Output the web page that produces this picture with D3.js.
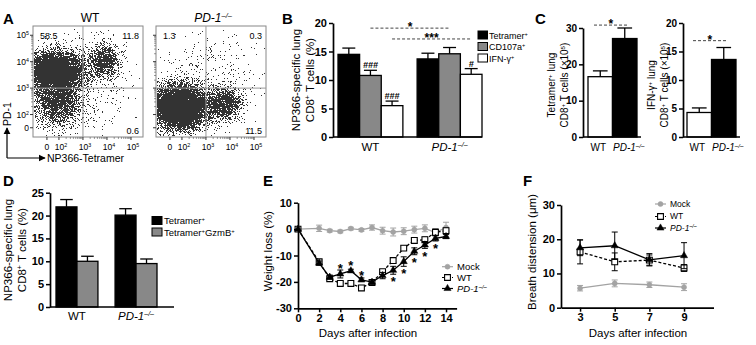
<!DOCTYPE html>
<html>
<head>
<meta charset="utf-8">
<script src="https://cdn.jsdelivr.net/npm/d3@7"></script>
<style>
  body { margin: 0; background: #fff; }
</style>
</head>
<body>
<svg id="fig" width="756" height="345"></svg>
<script>
const FONT = '"Liberation Sans", Arial, Helvetica, sans-serif'

// ---- A: flow plots, clusters
// [centre x (log10), centre y (log10), sd x, sd y, dot count]
const flowWT = [[1.85, 3.65, 0.55, 0.36, 7000], [1.95, 2.5, 0.5, 0.45, 2200], [3.85, 4.05, 0.33, 0.32, 1100], [3.0, 3.3, 1.1, 1.1, 500]]
const flowKO = [[1.9, 2.3, 0.55, 0.4, 9000], [3.7, 2.45, 0.38, 0.32, 1500], [3.0, 3.6, 1.1, 0.9, 350]]
const quadWT = ['58.5', '11.8', '0.6']
const quadKO = ['1.3', '0.3', '11.5']
const flowTickDecades = [1.5, 2, 3, 4, 5]
const flowTickExp = ['0', '2', '3', '4', '5']

// ---- B
const groupsB = ['WT', 'PD-1']
const seriesB = ['Tetramer', 'CD107a', 'IFN-γ']
const meanB = [[14.5, 10.8, 5.5], [13.7, 14.6, 11.0]]
const semB = [[1.1, 0.9, 0.8], [1.0, 1.1, 1.0]]
const hashB = [['', '###', '###'], ['', '', '#']]
const sigB = [['CD107a', '*', 19.1], ['IFN-γ', '***', 17.2]]

// ---- C
const groupsC = ['WT', 'PD-1']
const tetC = [16.6, 27.1]
const tetSemC = [1.6, 2.9]
const ifnC = [4.3, 13.6]
const ifnSemC = [0.8, 2.1]

// ---- D
const groupsD = ['WT', 'PD-1']
const seriesD = ['Tetramer', 'TetramerGzmB']
const meanD = [[21.9, 10.0], [20.1, 9.5]]
const semD = [[1.6, 1.1], [1.4, 1.0]]

// ---- E
const daysE = [0, 2, 3, 4, 5, 6, 7, 8, 9, 10, 11, 12, 13, 14]
const mockE = [0, 0.3, -0.6, -0.9, 0.2, -0.3, 0.6, -0.6, -1.1, -0.8, -0.2, 0.3, -1.3, 0.6]
const mockSemE = [0, 1.2, 0.5, 0.5, 0.5, 0.5, 1.0, 1.3, 1.5, 1.3, 1.3, 1.3, 1.3, 2.0]
const wtE = [0, -12.4, -18.8, -20.6, -20.6, -22.3, -20.2, -16.1, -11.9, -7.2, -4.3, -4.0, -1.2, -0.6]
const wtSemE = [0, 0.8, 0.8, 0.7, 0.7, 0.7, 0.7, 0.8, 0.9, 0.9, 1.0, 1.0, 1.2, 1.0]
const koE = [0, -12.9, -18.2, -17.0, -15.8, -19.2, -20.1, -17.6, -15.6, -12.3, -8.4, -6.0, -3.5, -2.8]
const koSemE = [0, 0.8, 0.8, 1.5, 0.6, 0.7, 0.8, 1.2, 1.5, 1.8, 1.3, 1.3, 1.0, 0.8]
const starDaysE = [4, 5, 6, 9, 10, 11, 12, 13]
const starYE = [-13.9, -12.8, -16.4, -18.6, -15.5, -11.7, -9.2, -6.3]

// ---- F
const daysF = [3, 5, 7, 9]
const mockF = [5.7, 7.1, 6.7, 6.0]
const mockSemF = [0.8, 1.0, 0.8, 1.0]
const wtF = [16.3, 13.4, 13.9, 11.6]
const wtSemF = [3.5, 2.6, 1.5, 1.0]
const koF = [17.5, 18.1, 14.0, 15.2]
const koSemF = [2.3, 4.0, 1.8, 3.8]

const svg = d3.select('#fig').attr('font-family', FONT)

function rich(t, parts) {
  parts.forEach(([s, st]) => {
    const ts = t.append('tspan').text(s)
    if (st && st.includes('i')) ts.attr('font-style', 'italic')
    if (st && st.includes('sup')) ts.attr('baseline-shift', 'super').attr('font-size', '62%')
  })
  return t
}
const pd1 = [['PD-1', 'i'], ['–/–', 'isup']]
function label(name) {
  if (name === 'PD-1') return pd1
  if (name === 'WT' || name === 'Mock') return [[name]]
  if (name === 'TetramerGzmB') return [['Tetramer'], ['+', 'sup'], ['GzmB'], ['+', 'sup']]
  return [[name], ['+', 'sup']]
}

function letter(s, x, y) {
  svg.append('text').attr('x', x).attr('y', y).attr('font-size', 15).attr('font-weight', 'bold').text(s)
}

function styleAxis(g, fs) {
  g.attr('font-family', FONT)
  g.select('.domain').attr('stroke-width', 1.7)
  g.selectAll('.tick line').attr('stroke-width', 1.5)
  g.selectAll('.tick text').attr('font-size', fs || 11).attr('font-weight', 'bold').attr('fill', '#000')
}

function yAxis(x, y, ticks, fs) {
  const g = svg.append('g').attr('transform', `translate(${x},0)`)
    .call(d3.axisLeft(y).tickValues(ticks).tickSize(4).tickSizeOuter(0).tickPadding(2).tickFormat(d => String(d)))
  styleAxis(g, fs)
  return g
}

function baseLine(x1, x2, y) {
  svg.append('line').attr('x1', x1).attr('x2', x2).attr('y1', y).attr('y2', y)
    .attr('stroke', '#000').attr('stroke-width', 1.7)
}

function yTitle(lines, xs, cy, fs) {
  lines.forEach((parts, i) => {
    const t = svg.append('text')
      .attr('transform', `translate(${xs[i]},${cy}) rotate(-90)`)
      .attr('text-anchor', 'middle').attr('dy', '0.35em').attr('font-size', fs || 11)
    rich(t, parts)
  })
}

function catLabels(x, names, y, fs, shift) {
  names.forEach((n, i) => {
    rich(svg.append('text').attr('x', x(n) + x.bandwidth() / 2 + (shift ? shift[i] : 0)).attr('y', y)
      .attr('text-anchor', 'middle').attr('font-size', fs || 11), label(n))
  })
}

function bar(cx, w, y, v, e, fill) {
  svg.append('line').attr('x1', cx).attr('x2', cx).attr('y1', y(v)).attr('y2', y(v + e))
    .attr('stroke', '#000').attr('stroke-width', 1.3)
  svg.append('line').attr('x1', cx - w * 0.3).attr('x2', cx + w * 0.3).attr('y1', y(v + e)).attr('y2', y(v + e))
    .attr('stroke', '#000').attr('stroke-width', 1.3)
  svg.append('rect').attr('x', cx - w / 2).attr('width', w).attr('y', y(v)).attr('height', y(0) - y(v))
    .attr('fill', fill).attr('stroke', '#000').attr('stroke-width', 1.3)
}

function sigLine(x1, x2, y, s) {
  svg.append('line').attr('x1', x1).attr('x2', x2).attr('y1', y).attr('y2', y)
    .attr('stroke', '#444').attr('stroke-width', 1).attr('stroke-dasharray', '3,2')
  svg.append('text').attr('x', (x1 + x2) / 2).attr('y', y + 3).attr('text-anchor', 'middle')
    .attr('font-size', 12).attr('font-weight', 'bold').text(s)
}

// ================= A =================
letter('A', 3, 24)
function flowPlot(x0, clusters, quad, title, seed) {
  const x = d3.scaleLinear().domain([0.92, 5.5]).range([x0, x0 + 110])
  const y = d3.scaleLinear().domain([1.15, 5.35]).range([137, 26])
  const src = d3.randomLcg(seed)
  let d = ''
  clusters.forEach(([cx, cy, sx, sy, n]) => {
    const gx = d3.randomNormal.source(src)(cx, sx)
    const gy = d3.randomNormal.source(src)(cy, sy)
    for (let i = 0; i < n; i++) {
      const px = Math.round(x(gx())), py = Math.round(y(gy()))
      if (px > x0 && px < x0 + 109 && py > 27 && py < 136) d += `M${px},${py}h1v1h-1z`
    }
  })
  svg.append('path').attr('d', d).attr('fill', '#000').attr('fill-opacity', 0.8)
  svg.append('rect').attr('x', x0).attr('y', 26).attr('width', 110).attr('height', 111)
    .attr('fill', 'none').attr('stroke', '#888').attr('stroke-width', 1)
  svg.append('line').attr('x1', x(3)).attr('x2', x(3)).attr('y1', 26).attr('y2', 137).attr('stroke', '#999')
  svg.append('line').attr('x1', x0).attr('x2', x0 + 110).attr('y1', y(3)).attr('y2', y(3)).attr('stroke', '#999')
  // ticks
  const minor = []
  ;[2, 3, 4].forEach(k => d3.range(2, 10).forEach(m => minor.push(k + Math.log10(m))))
  minor.forEach(v => {
    svg.append('line').attr('x1', x0).attr('x2', x0 - 2).attr('y1', y(v)).attr('y2', y(v)).attr('stroke', '#555').attr('stroke-width', 0.6)
    svg.append('line').attr('x1', x(v)).attr('x2', x(v)).attr('y1', 137).attr('y2', 139).attr('stroke', '#555').attr('stroke-width', 0.6)
  })
  flowTickDecades.forEach((v, i) => {
    svg.append('line').attr('x1', x0).attr('x2', x0 - 3).attr('y1', y(v)).attr('y2', y(v)).attr('stroke', '#333')
    svg.append('line').attr('x1', x(v)).attr('x2', x(v)).attr('y1', 137).attr('y2', 140).attr('stroke', '#333')
    const parts = i === 0 ? [['0']] : [['10'], [flowTickExp[i], 'sup']]
    if (x0 < 100) rich(svg.append('text').attr('x', x0 - 4).attr('y', y(v) + 3).attr('text-anchor', 'end').attr('font-size', 8.5), parts)
    rich(svg.append('text').attr('x', x(v) + (i === 0 ? 0 : 2)).attr('y', 150).attr('text-anchor', 'middle').attr('font-size', 8.5), parts)
  })
  const qt = (s, xx, yy, a) => svg.append('text').attr('x', xx).attr('y', yy).attr('text-anchor', a).attr('font-size', 9).text(s)
  qt(quad[0], x0 + 7, 39, 'start')
  qt(quad[1], x0 + 106, 39, 'end')
  qt(quad[2], x0 + 106, 134, 'end')
  rich(svg.append('text').attr('x', x0 + 57).attr('y', 22).attr('text-anchor', 'middle').attr('font-size', 12), title)
}
flowPlot(33, flowWT, quadWT, [['WT']], 0.31)
flowPlot(156, flowKO, quadKO, pd1, 0.73)
// axis arrows
svg.append('defs').append('marker').attr('id', 'arr').attr('viewBox', '0 0 10 10').attr('refX', 9).attr('refY', 5)
  .attr('markerWidth', 6).attr('markerHeight', 6).attr('orient', 'auto')
  .append('path').attr('d', 'M0,0L10,5L0,10z').attr('fill', '#000')
svg.append('path').attr('d', 'M7,158V128').attr('stroke', '#000').attr('stroke-width', 1.2).attr('marker-end', 'url(#arr)')
svg.append('path').attr('d', 'M7,158H45').attr('stroke', '#000').attr('stroke-width', 1.2).attr('marker-end', 'url(#arr)')
svg.append('text').attr('transform', 'translate(7,114) rotate(-90)').attr('text-anchor', 'middle').attr('dy', '0.35em').attr('font-size', 10.5).text('PD-1')
svg.append('text').attr('x', 47).attr('y', 162).attr('font-size', 10.5).text('NP366-Tetramer')

// ================= B =================
letter('B', 282, 24)
const yB = d3.scaleLinear().domain([0, 20]).range([137, 23])
const xB = d3.scaleBand().domain(groupsB).range([338, 482]).paddingInner(0.18)
const sB = d3.scaleBand().domain(seriesB).range([0, xB.bandwidth()])
const fillB = ['#000', '#888', '#fff']
groupsB.forEach((g, i) => seriesB.forEach((s, j) => {
  const cx = xB(g) + sB(s) + sB.bandwidth() / 2
  bar(cx, sB.bandwidth(), yB, meanB[i][j], semB[i][j], fillB[j])
  if (hashB[i][j]) svg.append('text').attr('x', cx).attr('y', yB(meanB[i][j] + semB[i][j]) - 2)
    .attr('text-anchor', 'middle').attr('font-size', 9).attr('font-weight', 'bold').attr('font-style', 'italic').text(hashB[i][j])
}))
yAxis(333, yB, [0, 5, 10, 15, 20])
baseLine(333, 482, yB(0))
catLabels(xB, groupsB, 151, 11.5)
yTitle([[['NP366-specific lung']], [['CD8'], ['+', 'sup'], [' T cells (%)']]], [296, 310], 80, 11.5)
sigB.forEach(([s, txt, v]) => {
  const c = sB(s) + sB.bandwidth() / 2
  sigLine(xB('WT') + c, xB('PD-1') + c, yB(v), txt)
})
seriesB.forEach((s, j) => {
  const yy = 31 + j * 11.5
  svg.append('rect').attr('x', 478).attr('y', yy).attr('width', 9.5).attr('height', 8)
    .attr('fill', fillB[j]).attr('stroke', '#000').attr('stroke-width', 1)
  rich(svg.append('text').attr('x', 489).attr('y', yy + 7.5).attr('font-size', 9), label(s))
})

// ================= C =================
letter('C', 535, 24)
const fillC = ['#fff', '#000']
function cPanel(ax, x1, x2, yTop, max, ticks, vals, sems, sigV, lines, tx) {
  const y = d3.scaleLinear().domain([0, max]).range([137, yTop])
  const x = d3.scaleBand().domain(groupsC).range([x1, x2])
  groupsC.forEach((g, i) => bar(x(g) + x.bandwidth() / 2, x.bandwidth(), y, vals[i], sems[i], fillC[i]))
  yAxis(ax, y, ticks, 10)
  baseLine(ax, x2 + 4, y(0))
  catLabels(x, groupsC, 151, 10, [-2, 4])
  sigLine(x('WT') + 6, x('PD-1') + x.bandwidth() / 2 + 3, y(sigV), '*')
  yTitle(lines, tx, 85, 10)
}
cPanel(583, 588, 637, 28, 30, [0, 10, 20, 30], tetC, tetSemC, 30.8,
  [[['Tetramer'], ['+', 'sup'], [' lung']], [['CD8'], ['+', 'sup'], [' T cells (×10'], ['5', 'sup'], [')']]], [551, 564])
cPanel(683, 687, 736, 23, 20, [0, 5, 10, 15, 20], ifnC, ifnSemC, 16.9,
  [[['IFN-γ'], ['+', 'sup'], [' lung']], [['CD8'], ['+', 'sup'], [' T cells (×10'], ['5', 'sup'], [')']]], [651, 664])

// ================= D =================
letter('D', 3, 186)
const yD = d3.scaleLinear().domain([0, 25]).range([307, 192.7])
const xD = d3.scaleBand().domain(groupsD).range([56, 157]).paddingInner(0.29)
const sD = d3.scaleBand().domain(seriesD).range([0, xD.bandwidth()])
const fillD = ['#000', '#888']
groupsD.forEach((g, i) => seriesD.forEach((s, j) => {
  bar(xD(g) + sD(s) + sD.bandwidth() / 2, sD.bandwidth(), yD, meanD[i][j], semD[i][j], fillD[j])
}))
yAxis(50, yD, [0, 5, 10, 15, 20, 25])
baseLine(50, 174, yD(0))
catLabels(xD, groupsD, 320, 11.5)
yTitle([[['NP366-specific lung']], [['CD8'], ['+', 'sup'], [' T cells (%)']]], [8, 22], 250, 11.5)
seriesD.forEach((s, j) => {
  const yy = 216.5 + j * 11.5
  svg.append('rect').attr('x', 152).attr('y', yy).attr('width', 10).attr('height', 8)
    .attr('fill', fillD[j]).attr('stroke', '#000').attr('stroke-width', 1)
  rich(svg.append('text').attr('x', 164).attr('y', yy + 7.5).attr('font-size', 9.5), label(s))
})

// ================= E / F line charts =================
const symbols = { circle: [d3.symbolCircle, 20], square: [d3.symbolSquare, 34], triangle: [d3.symbolTriangle, 22] }
function marker(g, sym, color) {
  const [type, size] = symbols[sym]
  return g.append('path').attr('d', d3.symbol(type, size)())
    .attr('fill', sym === 'square' ? '#fff' : color).attr('stroke', color).attr('stroke-width', sym === 'square' ? 1.1 : 0.5)
}
function linePanel(x, y, days, series) {
  series.forEach(s => {
    const pts = days.map((d, i) => [x(d), y(s.mean[i])])
    svg.append('path').attr('d', d3.line()(pts)).attr('fill', 'none').attr('stroke', s.color)
      .attr('stroke-width', 1.3).attr('stroke-dasharray', s.dash)
    days.forEach((d, i) => {
      const e = s.sem[i]
      if (!e) return
      const cx = x(d), y1 = y(s.mean[i] - e), y2 = y(s.mean[i] + e)
      svg.append('path').attr('d', `M${cx},${y1}V${y2}M${cx - 3},${y1}H${cx + 3}M${cx - 3},${y2}H${cx + 3}`)
        .attr('stroke', s.color).attr('stroke-width', 1).attr('fill', 'none')
    })
    pts.forEach(p => marker(svg.append('g').attr('transform', `translate(${p})`), s.sym, s.color))
  })
}
function legend(x0, ys, series, fs) {
  series.forEach((s, i) => {
    svg.append('line').attr('x1', x0).attr('x2', x0 + 11).attr('y1', ys[i]).attr('y2', ys[i])
      .attr('stroke', s.color).attr('stroke-width', 1.2).attr('stroke-dasharray', s.dash)
    marker(svg.append('g').attr('transform', `translate(${x0 + 5.5},${ys[i]})`), s.sym, s.color)
    rich(svg.append('text').attr('x', x0 + 15).attr('y', ys[i]).attr('dy', '0.35em').attr('font-size', fs), label(s.name))
  })
}

// E
letter('E', 263, 186)
const xE = d3.scaleLinear().domain([0, 15]).range([298, 456.6])
const yE = d3.scaleLinear().domain([-30, 10]).range([308.3, 202.7])
const seriesE = [
  { name: 'Mock', mean: mockE, sem: mockSemE, color: '#a3a3a3', dash: null, sym: 'circle' },
  { name: 'WT', mean: wtE, sem: wtSemE, color: '#000', dash: '3,2', sym: 'square' },
  { name: 'PD-1', mean: koE, sem: koSemE, color: '#000', dash: null, sym: 'triangle' }
]
linePanel(xE, yE, daysE, seriesE)
starDaysE.forEach((d, i) => svg.append('text').attr('x', xE(d)).attr('y', yE(starYE[i]) + 7.5)
  .attr('text-anchor', 'middle').attr('font-size', 13).attr('font-weight', 'bold').text('*'))
yAxis(298, yE, [-30, -20, -10, 0, 10])
styleAxis(svg.append('g').attr('transform', `translate(0,${yE(-30)})`)
  .call(d3.axisBottom(xE).tickValues(d3.range(0, 15, 2)).tickSize(4).tickSizeOuter(0).tickPadding(2)))
legend(442, [266.7, 277.5, 288.5], seriesE, 9.5)
yTitle([[['Weight loss (%)']]], [268], 251, 11.5)
svg.append('text').attr('x', 368).attr('y', 337).attr('text-anchor', 'middle').attr('font-size', 11.5).text('Days after infection')

// F
letter('F', 523, 186)
const xF = d3.scaleLinear().domain([1.9, 10.7]).range([561, 713.5])
const yF = d3.scaleLinear().domain([0, 30]).range([307.7, 205])
const seriesF = [
  { name: 'Mock', mean: mockF, sem: mockSemF, color: '#a3a3a3', dash: null, sym: 'circle' },
  { name: 'WT', mean: wtF, sem: wtSemF, color: '#000', dash: '3,2', sym: 'square' },
  { name: 'PD-1', mean: koF, sem: koSemF, color: '#000', dash: null, sym: 'triangle' }
]
linePanel(xF, yF, daysF, seriesF)
yAxis(561, yF, [0, 10, 20, 30])
styleAxis(svg.append('g').attr('transform', `translate(0,${yF(0)})`)
  .call(d3.axisBottom(xF).tickValues(daysF).tickSize(4).tickSizeOuter(0).tickPadding(2)))
legend(655, [204, 216.5, 228], seriesF, 8.5)
yTitle([[['Breath distension (μm)']]], [532], 252, 11.5)
svg.append('text').attr('x', 638).attr('y', 337).attr('text-anchor', 'middle').attr('font-size', 11.5).text('Days after infection')
</script>
</body>
</html>
